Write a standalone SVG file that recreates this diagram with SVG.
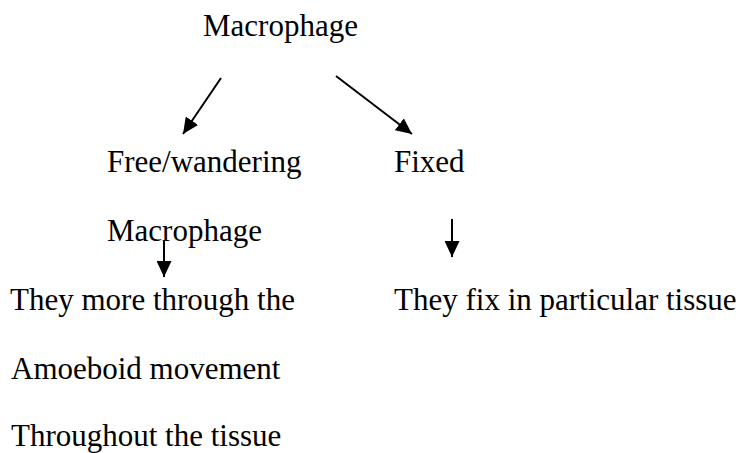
<svg xmlns="http://www.w3.org/2000/svg" width="749" height="453" viewBox="0 0 749 453">
<defs>
<style>
text { font-family: "Liberation Serif", "Times New Roman", serif; font-size: 31px; fill: #000; }
.conn { stroke: #000; stroke-width: 2; fill: none; marker-end: url(#ah); }
</style>
<marker id="ah" viewBox="0 0 16 15" markerWidth="16" markerHeight="15" markerUnits="userSpaceOnUse" refX="16" refY="7.5" orient="auto">
<path d="M0,0 L16,7.5 L0,15 Z" fill="#000"/>
</marker>
</defs>
<rect width="749" height="453" fill="#fff"/>
<g id="macrophage"><text x="203" y="36">Macrophage</text></g>
<g id="free"><text x="107" y="172">Free/wandering</text><text x="107" y="241">Macrophage</text></g>
<g id="fixed"><text x="394" y="172">Fixed</text></g>
<g id="free-desc"><text x="10" y="310">They more through the</text><text x="11" y="379">Amoeboid movement</text><text x="11" y="446">Throughout the tissue</text></g>
<g id="fixed-desc"><text x="394" y="310">They fix in particular tissue</text></g>
<g id="connectors">
<line class="conn" x1="221" y1="78" x2="183" y2="134"/>
<line class="conn" x1="336" y1="76" x2="412" y2="134"/>
<line class="conn" x1="164" y1="240" x2="164" y2="277"/>
<line class="conn" x1="452" y1="219" x2="452" y2="257"/>
</g>
</svg>
